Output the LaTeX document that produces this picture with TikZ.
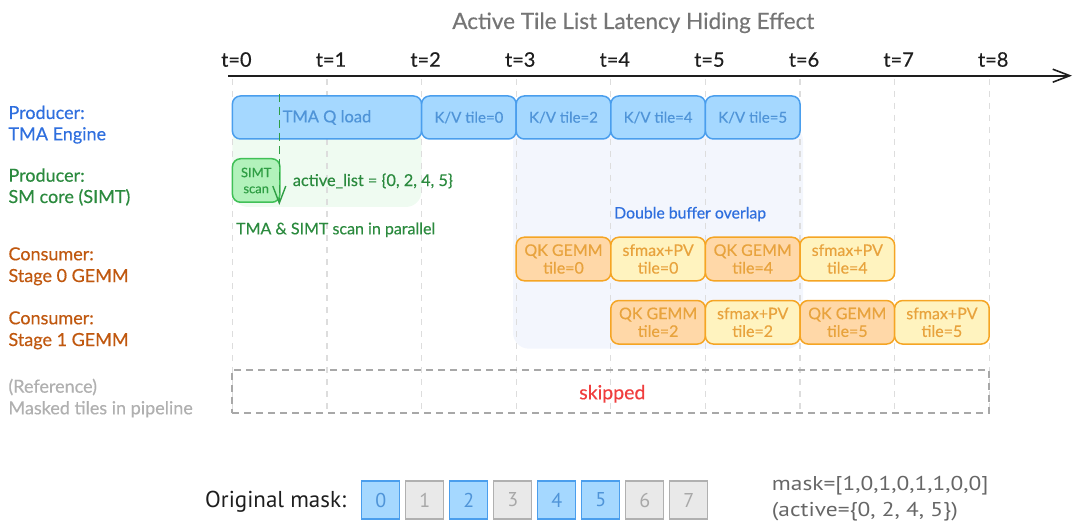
\documentclass[tikz,border=0pt]{standalone}
\usepackage{fontspec}
\setmainfont{Lato}[FakeBold=0.45]
\newfontfamily\ptfont{PT Sans}
\newfontfamily\ptwide{PT Sans}[FakeStretch=1.17]
\usetikzlibrary{arrows.meta}
\definecolor{titleC}{HTML}{757575}
\definecolor{inkC}{HTML}{1E1E1E}
\definecolor{gridC}{HTML}{DDDDDD}
\definecolor{blueL}{HTML}{2F6FDE}
\definecolor{greenL}{HTML}{2B8A3E}
\definecolor{orangeL}{HTML}{C0580F}
\definecolor{grayL}{HTML}{B0B0B0}
\definecolor{kvF}{HTML}{A5D8FF}
\definecolor{kvB}{HTML}{4A9EED}
\definecolor{kvT}{HTML}{4F94D8}
\definecolor{gbg}{HTML}{EFFBF1}
\definecolor{bbg}{HTML}{F3F6FD}
\definecolor{simtF}{HTML}{B2F2BB}
\definecolor{simtB}{HTML}{40C057}
\definecolor{simtT}{HTML}{2F9E44}
\definecolor{qkF}{HTML}{FFD8A8}
\definecolor{sfF}{HTML}{FFF3BF}
\definecolor{orB}{HTML}{F5A524}
\definecolor{orT}{HTML}{E8A33D}
\definecolor{redC}{HTML}{F03E3E}
\definecolor{dashC}{HTML}{A8A8A8}
\definecolor{offF}{HTML}{E9E9E9}
\definecolor{offB}{HTML}{B0B0B0}
\definecolor{offT}{HTML}{A8A8A8}
\definecolor{maskT}{HTML}{666666}
\begin{document}
\begin{tikzpicture}[x=1pt,y=-1pt,
  box/.style={draw, rounded corners=8pt, line width=1.5pt, inner sep=0pt, align=center},
  kv/.style={box, draw=kvB, fill=kvF, text=kvT, font=\fontsize{15}{17}\selectfont, minimum width=94.6pt, minimum height=43pt},
  qk/.style={box, draw=orB, fill=qkF, text=orT, font=\fontsize{16}{17.7}\selectfont, minimum width=94.6pt, minimum height=43.5pt},
  sf/.style={qk, fill=sfF},
  rowlab/.style={anchor=base west, inner sep=0pt, font=\fontsize{18}{21}\selectfont},
  tick/.style={anchor=base, inner sep=0pt, text=inkC, font=\fontsize{20}{24}\selectfont},
  gridline/.style={draw=gridC, line width=1.2pt, dash pattern=on 6pt off 6pt},
  mon/.style={draw=kvB, fill=kvF, text=kvT, line width=1.3pt, minimum width=38pt, minimum height=38pt, inner sep=0pt, font=\ptfont\fontsize{20}{22}\selectfont},
  moff/.style={mon, draw=offB, fill=offF, text=offT}
]
\useasboundingbox (0,0) rectangle (1080,532);

% background regions
\fill[gbg, rounded corners=16pt] (232.4,125) rectangle (421.7,207);
\fill[bbg, rounded corners=16pt] (513,125) rectangle (803,348.7);

% grid
\foreach \i in {0,...,8} {
  \draw[gridline] ({232.4+94.6*\i},79) -- ({232.4+94.6*\i},413);
}

% title
\node[anchor=base, inner sep=0pt, text=titleC, font=\fontsize{22.5}{26}\selectfont] (title) at (633.3,29) {Active Tile List Latency Hiding Effect};

% axis
\coordinate (axs) at (228,75.7);
\coordinate (axe) at (1072,75.7);
\draw[inkC, line width=2.2pt, -{Straight Barb[length=17pt,width=13pt,line width=1.6pt]}] (axs) -- (axe);
\foreach \i in {0,...,8} {
  \node[tick] (t\i) at ({236.4+94.6*\i},66.7) {t=\i};
}

% row labels
\node[rowlab, text=blueL] (l1a) at (8.3,119) {Producer:};
\node[rowlab, text=blueL] (l1b) at (8.3,140.3) {TMA Engine};
\node[rowlab, text=greenL] (l2a) at (8.3,181.7) {Producer:};
\node[rowlab, text=greenL] (l2b) at (8.3,203) {SM core (SIMT)};
\node[rowlab, text=orangeL] (l3a) at (8.3,260.3) {Consumer:};
\node[rowlab, text=orangeL] (l3b) at (8.3,282) {Stage 0 GEMM};
\node[rowlab, text=orangeL] (l4a) at (8.3,324.3) {Consumer:};
\node[rowlab, text=orangeL] (l4b) at (8.3,346) {Stage 1 GEMM};
\node[rowlab, text=grayL] (l5a) at (8.3,392.7) {(Reference)};
\node[rowlab, text=grayL] (l5b) at (8.3,414.3) {Masked tiles in pipeline};

% TMA row
\node[kv, minimum width=189.2pt, font=\fontsize{16.5}{19}\selectfont] (qload) at ({232.4+94.6},117.5) {TMA Q load};
\node[kv] (kv0) at ({232.4+94.6*2.5},117.5) {K/V tile=0};
\node[kv] (kv2) at ({232.4+94.6*3.5},117.5) {K/V tile=2};
\node[kv] (kv4) at ({232.4+94.6*4.5},117.5) {K/V tile=4};
\node[kv] (kv5) at ({232.4+94.6*5.5},117.5) {K/V tile=5};

% SIMT row
\node[box, draw=simtB, fill=simtF, text=simtT, minimum width=47.5pt, minimum height=43.5pt, font=\fontsize{13}{16}\selectfont] (simt) at (256.2,180.5) {SIMT\\scan};
\coordinate (ga) at (279.3,94);
\coordinate (gb) at (279.3,205);
\draw[simtT, line width=1.5pt, dash pattern=on 8pt off 5pt, -{Straight Barb[length=17pt,width=13pt,line width=1.4pt]}] (ga) -- (gb);
\node[anchor=base west, inner sep=0pt, text=greenL, font=\fontsize{16.3}{19}\selectfont] (alist) at (292.7,186) {active\_list = \{0, 2, 4, 5\}};
\node[anchor=base west, inner sep=0pt, text=greenL, font=\fontsize{16}{19}\selectfont] (par) at (236,234.3) {TMA \& SIMT scan in parallel};

\node[anchor=base west, inner sep=0pt, text=blueL, font=\fontsize{15.8}{19}\selectfont] (dbo) at (614,218.5) {Double buffer overlap};

% Stage 0
\node[qk] (s0a) at ({232.4+94.6*3.5},259) {QK GEMM\\tile=0};
\node[sf] (s0b) at ({232.4+94.6*4.5},259) {sfmax+PV\\tile=0};
\node[qk] (s0c) at ({232.4+94.6*5.5},259) {QK GEMM\\tile=4};
\node[sf] (s0d) at ({232.4+94.6*6.5},259) {sfmax+PV\\tile=4};

% Stage 1
\node[qk] (s1a) at ({232.4+94.6*4.5},322.3) {QK GEMM\\tile=2};
\node[sf] (s1b) at ({232.4+94.6*5.5},322.3) {sfmax+PV\\tile=2};
\node[qk] (s1c) at ({232.4+94.6*6.5},322.3) {QK GEMM\\tile=5};
\node[sf] (s1d) at ({232.4+94.6*7.5},322.3) {sfmax+PV\\tile=5};

% masked reference
\node[draw=dashC, line width=1.8pt, dash pattern=on 7pt off 5pt, minimum width=757pt, minimum height=42.7pt, inner sep=0pt] (skipbox) at (610.8,391.4) {};
\node[anchor=base, inner sep=0pt, text=redC, font=\fontsize{19.5}{22}\selectfont] (skip) at (612.3,399.3) {skipped};

% original mask
\node[anchor=base west, inner sep=0pt, text=inkC, font=\ptfont\fontsize{23}{26}\selectfont] (om) at (205,507.7) {Original mask:};
\node[mon] (m0) at ({380.8+44*0},500) {0};
\node[moff] (m1) at ({380.8+44*1},500) {1};
\node[mon] (m2) at ({380.8+44*2},500) {2};
\node[moff] (m3) at ({380.8+44*3},500) {3};
\node[mon] (m4) at ({380.8+44*4},500) {4};
\node[mon] (m5) at ({380.8+44*5},500) {5};
\node[moff] (m6) at ({380.8+44*6},500) {6};
\node[moff] (m7) at ({380.8+44*7},500) {7};

\node[anchor=base west, inner sep=0pt, text=maskT, font=\ptwide\fontsize{20}{24}\selectfont] (mt1) at (771.7,490) {mask=[1,0,1,0,1,1,0,0]};
\node[anchor=base west, inner sep=0pt, text=maskT, font=\ptwide\fontsize{20}{24}\selectfont] (mt2) at (771.7,516.7) {(active=\{0, 2, 4, 5\})};
\end{tikzpicture}
\end{document}
